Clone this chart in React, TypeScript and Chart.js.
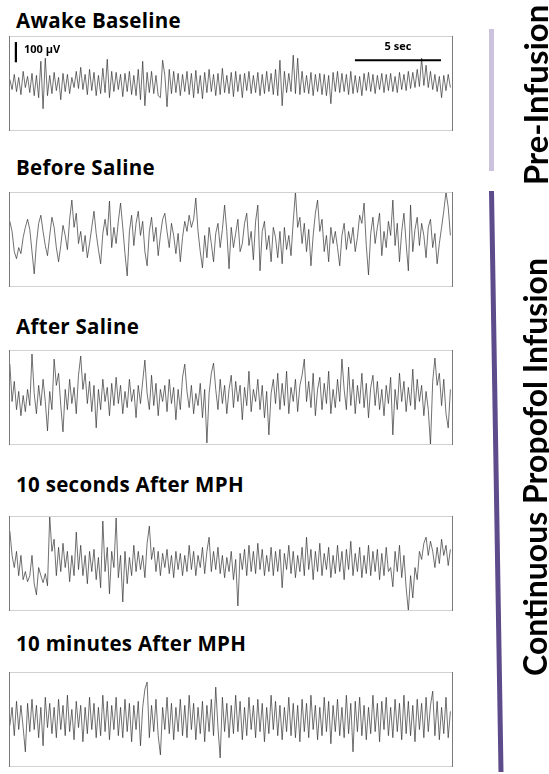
import React, { useEffect, useRef } from "react";
import { Chart, registerables } from "chart.js";

Chart.register(...registerables);

// ---------- data (µV, positive = up), one sample every ~0.13 s ----------
const panelTitles = [
  "Awake Baseline",
  "Before Saline",
  "After Saline",
  "10 seconds After MPH",
  "10 minutes After MPH",
];

const awakeBaseline = [
  20, -30, 45, -40, 30, -55, 60, -20, 35, -45,
  50, -60, 40, -70, 110, -125, 125, -60, 40, -50,
  55, -35, 30, -80, 50, -40, 45, -50, 30, -20,
  60, -25, 80, -30, 45, -55, 70, -35, 55, -60,
  40, -50, 75, -45, 120, -70, 60, -40, 55, -30,
  45, -65, 50, -40, 60, -55, 40, -60, 70, -80,
  110, -110, 55, -45, 60, -50, 40, -60, -70, 115,
  40, -115, 70, -50, 60, -45, 50, -60, 45, -40,
  60, -55, 50, -70, 65, -50, 40, -75, 55, -45,
  70, -40, 45, -60, 50, -55, 75, -45, 40, -50,
  55, -65, 60, -40, 45, -70, 50, -35, 60, -50,
  40, -45, 55, -60, 45, -50, 60, -40, 50, -55,
  70, -60, 115, -110, 60, -45, 50, -40, 140, -50,
  125, -55, 60, -45, 40, -50, 55, -60, 45, -40,
  50, -55, 45, -60, 40, -100, 55, -40, 60, -45,
  50, -40, 45, -55, 60, -50, 40, -45, 35, -60,
  50, -35, 55, -40, 45, -50, 40, -30, 50, -45,
  45, -35, 50, -40, 35, -45, 55, -30, 45, -35,
  60, -25, 55, -20, 70, -15, 125, -10, 90, -20,
  60, -30, 45, -40, 35, -70, 40, -35, 45, -20,
];

const beforeSaline = [
  90, 40, -60, -95, -40, -70, 10, 60, 100, 50,
  -60, -170, -20, 80, 120, 40, -30, -80, 20, 110,
  60, -40, -110, -30, 70, 20, -50, 100, 195, 60,
  130, -20, 40, -60, 20, -90, -20, 60, 140, 30,
  -50, -120, 30, 100, 20, 190, -40, 60, -20, 90,
  180, 60, -70, -180, 40, 120, -30, 80, 140, 20,
  90, -60, -130, 40, 110, -10, 60, -80, 20, 100,
  130, 40, -40, 80, 20, -70, 30, -110, 10, 90,
  40, 120, 60, 100, 205, 40, -60, -140, 20, -90,
  60, -20, -110, 30, 80, -40, 50, 170, 40, -145,
  60, -40, 30, 100, -60, -20, 80, 130, -30, 40,
  -100, 90, 170, -155, 40, 90, -50, 20, -110, 60,
  10, -90, 40, -120, 60, -50, 20, -80, 90, 235,
  60, 110, -20, 80, -60, 50, -130, 20, 130, 195,
  40, 100, -60, 20, -110, 60, -20, 40, -40, -130,
  20, 80, -50, 40, -20, 60, -60, 10, 120, 80,
  180, -30, -175, 30, 110, -20, 60, 130, -80, 40,
  -40, 90, 20, 195, -30, 80, -110, 40, 130, -20,
  -155, 170, -60, 50, 110, -30, 80, 20, -90, 60,
  100, -40, 30, -120, -20, 60, 140, 235, 160, 20,
];

const afterSaline = [
  165, -20, 80, -60, 30, -90, 10, -70, 40, -40,
  215, 20, -80, 60, -40, 90, -20, -165, 30, -60,
  190, 60, 120, -40, -170, 40, -60, 90, -30, 50,
  -80, 110, 205, 40, 120, -30, 80, -70, 60, -150,
  40, -60, 90, -20, 50, -90, 70, -40, 100, -30,
  60, -80, 30, -50, 90, -20, 40, -100, 60, -30,
  80, 185, 20, -60, 110, -40, 70, -90, 40, -20,
  60, -70, 90, -30, 50, -110, 40, -60, 100, 165,
  30, -50, 60, -80, 20, -40, 70, -100, 40, -225,
  20, 120, 170, 40, -60, 90, -30, 60, -80, 40,
  110, -50, 80, -20, 60, -110, 50, -40, 130, -70,
  40, -20, 90, -60, 60, -100, 30, -185, 20, 90,
  -30, 120, -60, 70, -40, 130, -80, 50, -20, 90,
  -70, 60, 110, 190, -20, 80, -50, 120, -90, 40,
  100, -60, 70, -30, 130, -80, 40, -50, 90, -20,
  190, 40, -60, 150, -40, 90, -80, 60, -30, 120,
  -50, 70, -100, 50, 110, -40, 80, -60, 40, -90,
  60, -30, 100, -185, 40, -60, 120, -20, 80, -70,
  50, -40, 140, -60, 90, -20, 60, -90, 30, -60,
  -235, 80, 195, 60, 120, -40, 90, -80, -150, 40,
];

const tenSecondsAfterMPH = [
  160, 40, -20, 60, -60, 40, -80, -40, -90, -60,
  40, -100, -155, -20, -60, -95, -50, -110, 235, 60,
  120, -60, 80, -40, 100, -20, 60, -90, 40, -60,
  155, -30, 90, -60, 40, -100, 60, -40, 70, -80,
  30, -120, 210, -40, 80, -150, 60, -20, 225, -70,
  40, -190, 60, -100, 30, -60, 90, -40, 60, -30,
  40, -70, 100, 185, 20, 80, -40, 60, -60, 50,
  -20, 70, -50, 40, -70, 60, -30, 50, -60, 40,
  -40, 90, -30, 60, -60, 40, -20, 80, -50, 60,
  130, -40, 60, -30, 80, -50, 40, -70, 30, -40,
  60, -80, 20, -210, 50, -30, 70, -60, 90, -40,
  60, -50, 100, -30, 70, -60, 40, -40, 80, -60,
  60, -40, 70, -120, 50, -30, 90, -50, 60, -70,
  40, -40, 80, -60, 130, -30, 70, -80, 60, -40,
  100, -60, 50, -30, 80, -70, 40, -50, 90, -40,
  60, -80, 70, -30, 110, -60, 50, -40, 80, -70,
  40, -50, 90, -60, 60, -40, 70, -80, 50, -60,
  80, -40, -20, -115, 60, -40, 90, -70, 40, -120,
  -235, -60, -170, -20, -80, 60, 20, 100, 130, 40,
  110, 60, -20, 80, 0, 120, 40, 90, -10, 70,
];

const tenMinutesAfterMPH = [
  -30, 60, -80, 90, -50, 70, -40, -160, 80, -60,
  100, -50, 70, -90, 60, -130, 110, -40, 80, -70,
  60, -90, 100, -50, 70, -80, 120, -60, 50, -100,
  90, -40, 70, -110, 60, -70, 110, -50, 80, -90,
  60, -80, 120, -60, 90, -100, 70, -50, 110, -80,
  60, -90, 100, -60, 80, -110, 70, -50, 90, -130,
  60, 150, 185, -90, 70, -60, 100, -80, -175, 60,
  -50, 110, -70, 80, -100, 60, -60, 100, -80, 70,
  -90, 120, -50, 80, -100, 60, -70, 90, -110, 70,
  -60, 100, -80, 160, -40, -190, 110, -60, 80, -90,
  70, -70, 120, -60, 90, -100, 60, -80, 110, -50,
  70, -90, 100, -60, 80, -110, 60, -70, 120, -50,
  90, -80, 70, -100, 60, -60, 110, -80, 80, -90,
  70, -110, 100, -60, 80, -90, 120, -50, 70, -100,
  60, -80, 110, -60, 90, -120, 70, -60, 100, -80,
  60, -90, 120, -70, 80, -160, 90, -60, 110, -80,
  70, -100, 60, -70, 120, -60, 80, -110, 90, -50,
  110, -80, 60, -90, 100, -60, 80, -100, 120, -70,
  90, -80, 70, -110, 100, -50, 80, -90, 110, -60,
  70, 140, -80, 90, -100, 60, -70, 110, -90, 40,
];

const traces = [awakeBaseline, beforeSaline, afterSaline, tenSecondsAfterMPH, tenMinutesAfterMPH];

// axis extents
const X_MIN = 0;
const X_MAX = 25.8; // seconds shown per panel
const T_START = 0.05;
const T_END = 25.65;
const Y_MIN = -235; // µV
const Y_MAX = 235;

// scale bar values
const VOLT_BAR = 100; // µV
const VOLT_BAR_TOP = 205;
const VOLT_BAR_T = 0.4;
const TIME_BAR = 5; // sec
const TIME_BAR_START = 20.1;
const TIME_BAR_Y = 115;

const sideLabels = ["Pre-Infusion", "Continuous Propofol Infusion"];

// ---------- layout ----------
const panelTops = [36, 192, 350, 516, 672];
const titleCenters = [20, 167, 326, 484, 643];
const PANEL_LEFT = 9;
const PANEL_W = 444;
const PANEL_H = 95;
const FONT = "'Open Sans', Lato, 'DejaVu Sans', sans-serif";
const SIDE_FONT = "Lato, 'Open Sans', 'DejaVu Sans', sans-serif";

const boxPlugin = {
  id: "eegBox",
  afterDraw(chart: any) {
    const ctx = chart.ctx;
    const w = chart.width;
    const h = chart.height;
    ctx.save();
    ctx.lineWidth = 1;
    ctx.strokeStyle = "#d2d2d2";
    ctx.beginPath();
    ctx.moveTo(0, 0.5);
    ctx.lineTo(w, 0.5);
    ctx.moveTo(0, h - 0.5);
    ctx.lineTo(w, h - 0.5);
    ctx.stroke();
    ctx.strokeStyle = "#7a7a7a";
    ctx.beginPath();
    ctx.moveTo(0.5, 0);
    ctx.lineTo(0.5, h);
    ctx.moveTo(w - 0.5, 0);
    ctx.lineTo(w - 0.5, h);
    ctx.stroke();
    ctx.restore();
  },
};

const scaleBarPlugin = {
  id: "scaleBars",
  afterDatasetsDraw(chart: any, _args: any, opts: any) {
    if (!opts || !opts.show) return;
    const ctx = chart.ctx;
    const xs = chart.scales.x;
    const ys = chart.scales.y;
    ctx.save();
    ctx.strokeStyle = "#000";
    ctx.fillStyle = "#000";
    ctx.lineWidth = 2.2;
    // vertical 100 µV bar
    const vx = xs.getPixelForValue(VOLT_BAR_T);
    ctx.beginPath();
    ctx.moveTo(vx, ys.getPixelForValue(VOLT_BAR_TOP));
    ctx.lineTo(vx, ys.getPixelForValue(VOLT_BAR_TOP - VOLT_BAR));
    ctx.stroke();
    // horizontal 5 sec bar
    const hy = ys.getPixelForValue(TIME_BAR_Y);
    ctx.beginPath();
    ctx.moveTo(xs.getPixelForValue(TIME_BAR_START), hy);
    ctx.lineTo(xs.getPixelForValue(TIME_BAR_START + TIME_BAR), hy);
    ctx.stroke();
    ctx.font = "bold 11px " + FONT;
    ctx.textBaseline = "middle";
    ctx.textAlign = "left";
    ctx.fillText(VOLT_BAR + " \u00b5V", xs.getPixelForValue(VOLT_BAR_T + 0.47), ys.getPixelForValue(165));
    ctx.textAlign = "center";
    ctx.fillText(TIME_BAR + " sec", xs.getPixelForValue(TIME_BAR_START + TIME_BAR / 2), ys.getPixelForValue(182));
    ctx.restore();
  },
};

function Trace({ values, top, bars }: { values: number[]; top: number; bars: boolean }) {
  const ref = useRef<HTMLCanvasElement | null>(null);
  useEffect(() => {
    if (!ref.current) return;
    const n = values.length;
    const pts = values.map((v, i) => ({ x: T_START + (i * (T_END - T_START)) / (n - 1), y: v }));
    const chart = new Chart(ref.current, {
      type: "line",
      data: {
        datasets: [
          {
            data: pts,
            borderColor: "rgba(45,45,45,0.85)",
            borderWidth: 0.8,
            pointRadius: 0,
            tension: 0,
            fill: false,
          },
        ],
      },
      options: {
        animation: false,
        responsive: false,
        maintainAspectRatio: false,
        parsing: false,
        layout: { padding: 0 },
        plugins: {
          legend: { display: false },
          tooltip: { enabled: false },
          title: { display: false },
          // @ts-ignore
          scaleBars: { show: bars },
        },
        scales: {
          x: { type: "linear", min: X_MIN, max: X_MAX, display: false },
          y: { type: "linear", min: Y_MIN, max: Y_MAX, display: false },
        },
      } as any,
      plugins: [boxPlugin, scaleBarPlugin],
    });
    return () => chart.destroy();
  }, [values, bars]);
  return (
    <canvas
      ref={ref}
      width={PANEL_W}
      height={PANEL_H}
      style={{ position: "absolute", left: PANEL_LEFT, top, width: PANEL_W, height: PANEL_H }}
    />
  );
}

const sideStyle = (top: number): React.CSSProperties => ({
  position: "absolute",
  left: 535,
  top,
  transform: "translate(-50%, -50%) rotate(-90deg)",
  fontFamily: SIDE_FONT,
  fontSize: 33,
  fontWeight: 700,
  whiteSpace: "nowrap",
  lineHeight: 1,
  color: "#000",
});

export default function App() {
  return (
    <div
      style={{
        position: "absolute",
        left: 0,
        top: 0,
        width: 549,
        height: 774,
        background: "#fff",
        overflow: "hidden",
        fontFamily: FONT,
      }}
    >
      {panelTitles.map((t, i) => (
        <div
          key={t}
          style={{
            position: "absolute",
            left: 16,
            top: titleCenters[i],
            transform: "translateY(-50%)",
            fontSize: 20.5,
            letterSpacing: 0.3,
            fontWeight: 700,
            color: "#000",
            whiteSpace: "nowrap",
            lineHeight: 1,
          }}
        >
          {t}
        </div>
      ))}
      {traces.map((v, i) => (
        <Trace key={i} values={v} top={panelTops[i]} bars={i === 0} />
      ))}
      <svg width={549} height={774} style={{ position: "absolute", left: 0, top: 0 }}>
        <line x1={491.5} y1={29} x2={491.5} y2={171} stroke="#cbc2de" strokeWidth={5} />
        <line x1={491.5} y1={191} x2={501} y2={772} stroke="#5e4b8b" strokeWidth={5} />
      </svg>
      <div style={sideStyle(95)}>{sideLabels[0]}</div>
      <div style={{ ...sideStyle(467), fontSize: 32 }}>{sideLabels[1]}</div>
    </div>
  );
}
